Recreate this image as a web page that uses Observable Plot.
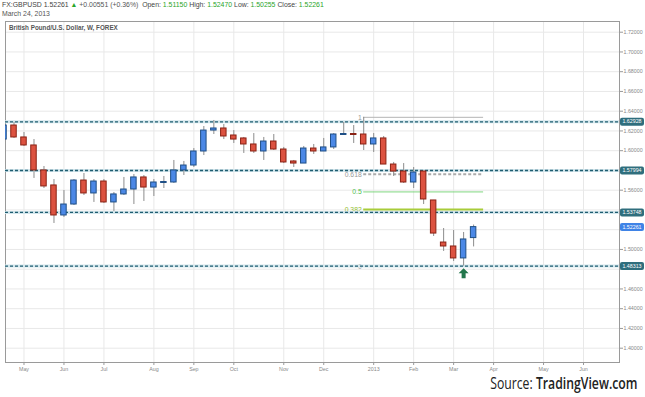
<!DOCTYPE html>
<html><head><meta charset="utf-8">
<script src="https://cdn.jsdelivr.net/npm/d3@7"></script>
<script src="https://cdn.jsdelivr.net/npm/@observablehq/plot@0.6"></script>
<style>
body{margin:0;background:#fff;}
#wrap{position:relative;width:645px;height:397px;overflow:hidden;font-family:"Liberation Sans",Arial,sans-serif;}
#hdr{position:absolute;left:2px;top:0px;font-size:6.9px;color:#555;line-height:9px;white-space:nowrap;}
#hdr .g{color:#2aa52a;}
#hdr .k{color:#444;}
#ttl{position:absolute;left:9px;top:24px;font-size:6.3px;font-weight:bold;color:#555;white-space:nowrap;}
#src{position:absolute;right:8px;top:372px;font-size:15.5px;color:#222;white-space:nowrap;font-family:"Open Sans","Liberation Sans",sans-serif;transform:scaleX(0.79);transform-origin:right center;}
#src b{font-weight:600;}
#chart{position:absolute;left:0;top:0;}
</style></head>
<body>
<div id="wrap">
<div id="chart"></div>
<div id="hdr"><span class="k">FX:GBPUSD 1.52261</span> <span class="g">▲</span> +0.00551 (+0.36%) &nbsp;<span class="k">Open:</span> <span class="g">1.51150</span> <span class="k">High:</span> <span class="g">1.52470</span> <span class="k">Low:</span> <span class="g">1.50255</span> <span class="k">Close:</span> <span class="g">1.52261</span><br>March 24, 2013</div>
<div id="ttl">British Pound/U.S. Dollar, W, FOREX</div>
<div id="src">Source: <b>TradingView.com</b></div>
</div>
<script>
const weeks = ["2012-04-23","2012-04-30","2012-05-07","2012-05-14","2012-05-21","2012-05-28","2012-06-04","2012-06-11","2012-06-18","2012-06-25","2012-07-02","2012-07-09","2012-07-16","2012-07-23","2012-07-30","2012-08-06","2012-08-13","2012-08-20","2012-08-27","2012-09-03","2012-09-10","2012-09-17","2012-09-24","2012-10-01","2012-10-08","2012-10-15","2012-10-22","2012-10-29","2012-11-05","2012-11-12","2012-11-19","2012-11-26","2012-12-03","2012-12-10","2012-12-17","2012-12-24","2012-12-31","2013-01-07","2013-01-14","2013-01-21","2013-01-28","2013-02-04","2013-02-11","2013-02-18","2013-02-25","2013-03-04","2013-03-11","2013-03-18"];
const open  = [1.6113,1.6255,1.6134,1.6053,1.5800,1.5648,1.5344,1.5455,1.5698,1.5567,1.5688,1.5476,1.5557,1.5607,1.5729,1.5627,1.5673,1.5678,1.5800,1.5850,1.5992,1.6204,1.6225,1.6154,1.6124,1.6063,1.5992,1.6093,1.6012,1.5891,1.5870,1.6022,1.5992,1.6033,1.6159,1.6169,1.6164,1.6063,1.6124,1.5860,1.5789,1.5678,1.5789,1.5496,1.5070,1.5030,1.4909,1.51150];
const high  = [1.6286,1.6286,1.6184,1.6113,1.5840,1.5708,1.5597,1.5708,1.5769,1.5708,1.5708,1.5577,1.5729,1.5759,1.5749,1.5708,1.5739,1.5901,1.5891,1.6022,1.6245,1.6306,1.6265,1.6204,1.6134,1.6174,1.6134,1.6164,1.6033,1.5901,1.6043,1.6063,1.6124,1.6174,1.6286,1.6255,1.6338,1.6174,1.6144,1.5881,1.5870,1.5830,1.5789,1.5496,1.5212,1.5192,1.5172,1.52470];
const low   = [1.6103,1.6124,1.6043,1.5719,1.5617,1.5263,1.5324,1.5445,1.5546,1.5476,1.5466,1.5384,1.5546,1.5455,1.5486,1.5536,1.5617,1.5668,1.5749,1.5830,1.5951,1.6164,1.6113,1.6073,1.5972,1.5972,1.5901,1.6002,1.5870,1.5830,1.5870,1.5962,1.5992,1.6012,1.6154,1.6073,1.6002,1.5982,1.5860,1.5739,1.5668,1.5617,1.5455,1.5131,1.4980,1.4878,1.4831,1.50255];
const close = [1.6255,1.6134,1.6053,1.5800,1.5638,1.5344,1.5455,1.5698,1.5567,1.5688,1.5476,1.5557,1.5607,1.5729,1.5627,1.5678,1.5683,1.5800,1.5850,1.5992,1.6204,1.6225,1.6144,1.6113,1.6063,1.5992,1.6093,1.6012,1.5881,1.5870,1.6022,1.5992,1.6033,1.6164,1.6169,1.6159,1.6063,1.6124,1.5860,1.5789,1.5678,1.5779,1.5506,1.5161,1.5030,1.4909,1.5101,1.52261];

const levels = [1.62928, 1.57994, 1.53748, 1.48313];
const lastPrice = [1.52261];
const yTicks = [1.40,1.42,1.44,1.46,1.48,1.50,1.52,1.54,1.56,1.58,1.60,1.62,1.64,1.66,1.68,1.70,1.72];
const yTickLabels = [1.40,1.42,1.44,1.46,1.50,1.56,1.60,1.62,1.64,1.66,1.68,1.70,1.72];
const monthTicks = ["2012-05-07","2012-06-04","2012-07-02","2012-08-06","2012-09-03","2012-10-01","2012-11-05","2012-12-03","2013-01-07","2013-02-04","2013-03-04","2013-04-01","2013-05-06","2013-06-03"];
const monthLabels = ["May","Jun","Jul","Aug","Sep","Oct","Nov","Dec","2013","Feb","Mar","Apr","May","Jun"];
const fibRatios = [1, 0.618, 0.5, 0.382, 0];
const fibLabels = ["1","0.618","0.5","0.382","0"];
const fibHigh = 1.6338, fibLow = 1.4827;
const fibStart = "2012-12-31", fibEnd = "2013-03-25";
const signalWeek = ["2013-03-11"];

const candles = weeks.map((w,i)=>({date:new Date(w), open:open[i], high:high[i], low:low[i], close:close[i]}));
const up = candles.filter(d=>d.close>=d.open), down = candles.filter(d=>d.close<d.open);
const tickDates = monthTicks.map(d=>new Date(d));
const labelMap = new Map(tickDates.map((d,i)=>[+d, monthLabels[i]]));
const fib = fibRatios.map((r,i)=>({r, label:fibLabels[i], price: fibLow + r*(fibHigh-fibLow)}));
const signal = signalWeek.map(w=>({date:new Date(w), price: candles.find(c=>+c.date===+new Date(w)).low}));

const half = 46*3600*1000;
const boxSym = (w,h,r)=>({draw(ctx){const x0=-w/2,y0=-h/2;ctx.moveTo(x0+r,y0);ctx.lineTo(x0+w-r,y0);ctx.arcTo(x0+w,y0,x0+w,y0+r,r);ctx.lineTo(x0+w,y0+h-r);ctx.arcTo(x0+w,y0+h,x0+w-r,y0+h,r);ctx.lineTo(x0+r,y0+h);ctx.arcTo(x0,y0+h,x0,y0+h-r,r);ctx.lineTo(x0,y0+r);ctx.arcTo(x0,y0,x0+r,y0,r);ctx.closePath();}});
const arrowSym = {draw(ctx){ctx.moveTo(0,-5);ctx.lineTo(5,0);ctx.lineTo(2,0);ctx.lineTo(2,5);ctx.lineTo(-2,5);ctx.lineTo(-2,0);ctx.lineTo(-5,0);ctx.closePath();}};

const fibStyles = {
  "1":     {stroke:"#b5b5b5", w:1, dash:null, text:"#999"},
  "0.618": {stroke:"#aaaaaa", w:2, dash:"3,2", text:"#999"},
  "0.5":   {stroke:"#7fd67f", w:1, dash:null, text:"#4fc04f"},
  "0.382": {stroke:"#a8cc3a", w:2, dash:null, text:"#95c030"},
  "0":     {stroke:"#b5b5b5", w:1, dash:"3,2", text:"#999"}
};
const fibMarks = fib.flatMap(f=>{
  const s = fibStyles[f.label];
  return [
    Plot.ruleY([f], {y:"price", x1:()=>new Date(fibStart), x2:()=>new Date(fibEnd), stroke:s.stroke, strokeWidth:s.w, strokeDasharray:s.dash}),
    Plot.text([f], {x:()=>new Date(fibStart), y:"price", text:"label", textAnchor:"end", dx:-2, fill:s.text, fontSize:6.8, fontFamily:"Liberation Sans, Arial, sans-serif"})
  ];
});

const chart = Plot.plot({
  width:645, height:397,
  marginLeft:5, marginRight:26, marginTop:21, marginBottom:35,
  style:{background:"transparent", color:"#888", fontFamily:"Liberation Sans, Arial, sans-serif"},
  x:{type:"utc", domain:[new Date("2012-04-24T01:00Z"), new Date("2013-06-28T05:00Z")], axis:null},
  y:{domain:[1.38551, 1.73084], axis:null},
  marks:[
    Plot.gridY(yTicks, {stroke:"#e8e8e8", strokeOpacity:1}),
    Plot.gridX(tickDates, {stroke:"#e8e8e8", strokeOpacity:1}),
    Plot.frame({stroke:"#9a9a9a"}),
    Plot.axisY(yTicks, {anchor:"right", tickSize:3, text:null, stroke:"#999"}),
    Plot.axisY(yTickLabels, {anchor:"right", tickFormat:d=>d.toFixed(5), tickSize:0, tickPadding:4, fontSize:5.3, fill:"#888"}),
    Plot.axisX(tickDates, {anchor:"bottom", tickFormat:d=>labelMap.get(+d), tickSize:3, tickPadding:2, fontSize:5.3, stroke:"#999", fill:"#888"}),
    ...fibMarks,
    Plot.ruleY(levels, {stroke:"#d3e6ec", strokeWidth:3}),
    Plot.ruleY(levels, {stroke:"#1f5d70", strokeWidth:1.3, strokeDasharray:"3,2"}),
    Plot.ruleX(candles, {x:"date", y1:"low", y2:"high", stroke:"#8c8c8c", strokeWidth:1, clip:true}),
    Plot.rect(up, {x1:d=>new Date(+d.date-half), x2:d=>new Date(+d.date+half), y1:"open", y2:"close", fill:"#4b88e6", stroke:"#1f4f86", strokeWidth:1, clip:true}),
    Plot.rect(down, {x1:d=>new Date(+d.date-half), x2:d=>new Date(+d.date+half), y1:"open", y2:"close", fill:"#dc5240", stroke:"#8a2214", strokeWidth:1, clip:true}),
    Plot.dot(signal, {x:"date", y:"price", dy:7, symbol:arrowSym, r:4, fill:"#23774c", stroke:"none"}),
    Plot.dot(levels, {y:d=>d, frameAnchor:"right", dx:12.5, symbol:boxSym(24,8,2), r:4, fill:"#2f6e7d", stroke:"none"}),
    Plot.text(levels, {y:d=>d, frameAnchor:"right", textAnchor:"middle", dx:12.5, text:d=>d.toFixed(5), fill:"white", fontSize:5.3}),
    Plot.dot(lastPrice, {y:d=>d, frameAnchor:"right", dx:12.5, symbol:boxSym(24,8,2), r:4, fill:"#3f83e6", stroke:"none"}),
    Plot.text(lastPrice, {y:d=>d, frameAnchor:"right", textAnchor:"middle", dx:12.5, text:d=>d.toFixed(5), fill:"white", fontSize:5.3})
  ]
});
document.getElementById("chart").appendChild(chart);
</script>
</body></html>
